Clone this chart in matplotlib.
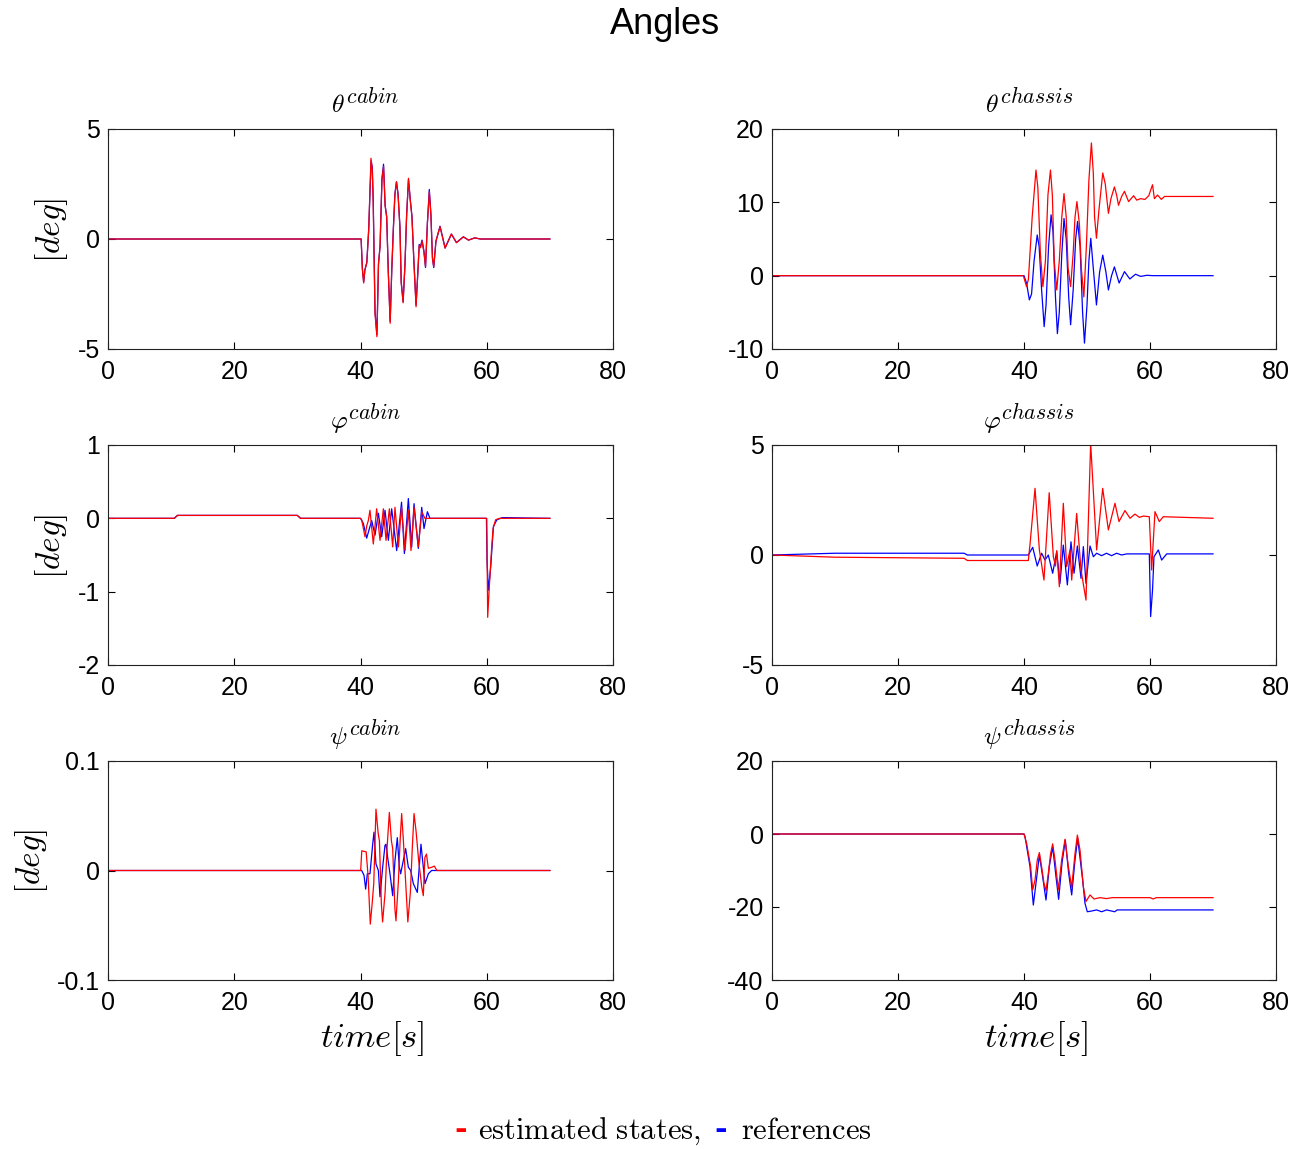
import numpy as np
import matplotlib
matplotlib.use("Agg")
import matplotlib.pyplot as plt
import matplotlib._mathtext as _mt

plt.rcParams['font.family'] = ['Liberation Sans', 'DejaVu Sans']
plt.rcParams['mathtext.fontset'] = 'cm'
plt.rcParams['axes.unicode_minus'] = False
_mt.SHRINK_FACTOR = 0.85  # larger superscripts, as in the reference titles

# ---------------- data: (time [s], angle [deg]) vertices ----------------
theta_cabin_est = [(0, 0), (40.1, 0), (40.3, -1.4), (40.5, -2.0), (40.7, -1.4), (41.0, -1.1), (41.3, 0.4),
                   (41.66, 3.67), (41.85, 3.2), (42.0, 1.8), (42.3, -3.4), (42.6, -4.44), (42.85, -1.1),
                   (43.1, -0.35), (43.4, 2.7), (43.65, 3.3), (43.9, 1.5), (44.15, 1.0), (44.4, -1.5),
                   (44.7, -3.83), (44.95, -1.4), (45.2, 0.4), (45.45, 2.0), (45.7, 2.6), (45.95, 2.0),
                   (46.25, 0.5), (46.45, -2.0), (46.75, -2.9), (47.05, -1.1), (47.3, 1.0), (47.6, 2.76),
                   (47.9, 1.7), (48.15, 1.0), (48.45, -1.0), (48.8, -3.08), (49.1, -1.4), (49.3, -0.3),
                   (49.5, -0.4), (49.75, -0.1), (50.05, -0.6), (50.3, -1.26), (50.6, 0.7), (50.9, 2.15),
                   (51.15, 1.1), (51.4, -0.9), (51.6, -1.26), (51.95, -0.1), (52.6, 0.56), (53.4, -0.42),
                   (54.4, 0.23), (55.2, -0.17), (56.3, 0.1), (57.1, -0.05), (58.1, 0.05), (59.0, 0), (70, 0)]
theta_cabin_ref = [(0, 0), (40.1, 0), (40.3, -1.35), (40.5, -1.95), (40.7, -1.4), (41.0, -1.05), (41.3, 0.45),
                   (41.68, 3.55), (41.87, 3.25), (42.02, 1.75), (42.3, -3.3), (42.6, -4.35), (42.85, -1.15),
                   (43.1, -0.3), (43.4, 2.75), (43.65, 3.4), (43.9, 1.55), (44.15, 1.0), (44.4, -1.45),
                   (44.7, -3.75), (44.95, -1.45), (45.2, 0.45), (45.45, 2.05), (45.7, 2.6), (45.95, 2.05),
                   (46.25, 0.55), (46.45, -1.95), (46.75, -2.85), (47.05, -1.15), (47.3, 1.05), (47.6, 2.7),
                   (47.9, 1.75), (48.15, 1.05), (48.45, -0.95), (48.8, -3.0), (49.1, -1.45), (49.3, -0.25),
                   (49.5, -0.35), (49.75, -0.05), (50.05, -0.55), (50.3, -1.3), (50.6, 0.75), (50.9, 2.25),
                   (51.15, 1.15), (51.4, -0.85), (51.6, -1.3), (51.95, -0.1), (52.6, 0.58), (53.4, -0.4),
                   (54.4, 0.22), (55.2, -0.16), (56.3, 0.1), (57.1, -0.05), (58.1, 0.05), (59.0, 0), (70, 0)]

theta_chassis_est = [(0, 0), (39.9, 0), (40.4, -1.5), (40.7, -0.5), (41.3, 8), (41.9, 14.4), (42.2, 12),
                     (42.6, 3), (43.0, -1.5), (43.4, 2), (43.8, 11), (44.2, 14.4), (44.5, 11), (44.8, 2),
                     (45.2, -1.95), (45.6, 2), (46.0, 8), (46.35, 11.2), (46.7, 8), (47.0, 1), (47.4, -1.5),
                     (47.8, 3), (48.1, 8), (48.4, 10.1), (48.8, 7), (49.1, 1), (49.5, -2.9), (49.9, 4),
                     (50.3, 13), (50.7, 18.1), (51.0, 14), (51.2, 8), (51.5, 5.1), (51.9, 9), (52.5, 14.0),
                     (52.9, 12.5), (53.4, 8.5), (53.8, 10.5), (54.35, 12.1), (54.7, 11), (55.0, 9.6),
                     (55.5, 10.8), (55.95, 11.5), (56.6, 10.1), (57.4, 10.9), (57.9, 10.3), (58.5, 10.5),
                     (59.2, 10.4), (59.8, 10.9), (60.4, 12.4), (60.7, 10.5), (61.2, 11.0), (61.8, 10.4),
                     (62.3, 10.8), (70, 10.8)]
theta_chassis_ref = [(0, 0), (40.0, 0), (40.4, -1.0), (40.85, -3.3), (41.2, -2.5), (41.6, 2), (42.1, 5.55),
                     (42.4, 4), (42.8, -2), (43.2, -6.95), (43.5, -4), (43.9, 4), (44.3, 8.3), (44.6, 6),
                     (45.0, -3), (45.3, -7.9), (45.6, -5), (46.0, 3), (46.35, 7.8), (46.7, 5), (47.1, -3),
                     (47.4, -6.7), (47.8, -2), (48.2, 5), (48.5, 7.4), (48.9, 4), (49.3, -5), (49.6, -9.2),
                     (50.0, -4), (50.3, 2), (50.6, 5.1), (51.0, 1), (51.5, -4.0), (52.0, 0.5), (52.5, 2.8),
                     (53.0, 0.5), (53.4, -1.95), (53.9, 0), (54.35, 1.2), (55.1, -1.0), (55.95, 0.55),
                     (56.8, -0.45), (57.7, 0.2), (58.5, -0.1), (59.5, 0.05), (60.5, 0), (70, 0)]

phi_cabin_est = [(0, 0), (10.5, 0), (11, 0.04), (30, 0.04), (30.5, 0), (40.0, 0), (40.19, -0.02),
                 (40.71, -0.25), (41.0, -0.1), (41.24, -0.03), (41.5, 0.11), (42.03, -0.35), (42.56, 0.13),
                 (43.09, -0.30), (43.62, 0.13), (44.04, -0.30), (44.57, 0.13), (45.1, -0.39), (45.46, 0.15),
                 (46.0, -0.39), (46.5, 0.15), (47.05, -0.44), (47.58, 0.11), (48.0, -0.44), (48.48, 0.15),
                 (49.16, -0.39), (49.7, 0.09), (50.2, 0), (51.3, 0), (60.0, 0), (60.15, -1.35),
                 (60.4, -0.94), (60.75, -0.44), (61.0, -0.14), (61.4, -0.02), (62, 0), (70, 0)]
phi_cabin_ref = [(0, 0), (10.5, 0), (11, 0.04), (30, 0.04), (30.5, 0), (40.0, 0), (40.45, -0.07),
                 (40.98, -0.27), (41.77, -0.03), (42.3, -0.23), (42.83, 0.07), (43.36, -0.25), (43.88, 0.11),
                 (44.41, -0.30), (44.94, 0.13), (45.73, -0.44), (46.5, 0.22), (46.95, -0.48), (47.58, 0.27),
                 (48.11, -0.39), (48.48, 0.2), (49.16, -0.41), (49.7, 0.15), (50.06, -0.14), (50.6, 0.09),
                 (51.0, 0), (59.95, 0), (60.05, -0.6), (60.27, -0.98), (60.63, -0.66), (61.06, -0.11),
                 (61.6, -0.02), (62.5, 0.01), (70, 0)]

phi_chassis_est = [(0, 0), (10, -0.1), (30.5, -0.15), (31, -0.25), (40.69, -0.25), (40.97, 0.53),
                   (41.75, 3.03), (42.44, 0.23), (43.17, -1.14), (44.0, 2.83), (44.66, -0.08), (45.0, -0.5),
                   (45.2, 0.2), (45.61, -1.44), (46.24, 2.35), (46.77, -0.53), (47.3, 0.23), (47.57, -1.14),
                   (48.36, 1.89), (49.05, -0.68), (49.84, -2.05), (50.58, 5.08), (51.53, 0.23), (52.49, 3.03),
                   (53.39, 1.14), (54.44, 2.35), (55.08, 1.52), (56.03, 2.02), (56.83, 1.67), (57.62, 1.86),
                   (58.31, 1.71), (58.94, 1.77), (59.89, 1.74), (60.26, -0.68), (60.79, 1.97), (61.48, 1.52),
                   (62.1, 1.74), (70, 1.67)]
phi_chassis_ref = [(0, 0), (10, 0.08), (30.5, 0.08), (31, 0.0), (40.69, 0.0), (41.38, 0.35), (42.1, -0.5),
                   (42.8, 0.08), (43.33, -0.23), (43.86, 0.0), (44.55, -0.83), (45.19, 0.15), (45.71, -1.29),
                   (46.24, 0.45), (46.88, -1.36), (47.46, 0.6), (47.94, -0.83), (48.47, 0.41), (49.05, -1.06),
                   (49.42, 0.38), (49.84, -1.29), (50.48, 0.41), (51.01, -0.08), (51.53, 0.08), (52.33, -0.03),
                   (53.1, 0.08), (53.9, -0.03), (54.7, 0.08), (55.5, 0.0), (56.3, 0.05), (59.89, 0.05),
                   (60.1, -2.8), (60.4, -1.6), (60.63, -0.08), (61.32, 0.23), (61.85, -0.23), (62.65, 0.05),
                   (70, 0.05)]

psi_cabin_est = [(0, 0), (40.03, 0), (40.2, 0.018), (40.9, 0.017), (41.2, -0.005), (41.55, -0.049),
                 (41.85, -0.03), (42.1, -0.012), (42.45, 0.056), (42.8, 0.034), (43.0, 0.027), (43.3, -0.03),
                 (43.5, -0.047), (43.9, -0.02), (44.2, 0.02), (44.57, 0.053), (44.9, 0.027), (45.1, 0.02),
                 (45.45, -0.035), (45.62, -0.046), (46.0, -0.01), (46.3, 0.03), (46.52, 0.052), (46.8, 0.027),
                 (47.05, 0.0), (47.5, -0.047), (47.9, -0.02), (48.2, 0.02), (48.48, 0.052), (48.8, 0.036),
                 (49.2, 0.01), (49.7, -0.015), (49.95, -0.023), (50.2, 0.012), (50.45, 0.015), (50.75, 0.002),
                 (51.3, 0.003), (51.7, 0.004), (52.1, 0), (70, 0)]
psi_cabin_ref = [(0, 0), (40.19, 0), (40.56, -0.0045), (40.82, -0.017), (41.08, -0.003), (41.5, -0.003),
                 (41.93, 0.024), (42.14, 0.035), (42.45, 0.006), (42.83, 0.0), (43.09, -0.024), (43.51, 0.003),
                 (43.88, 0.023), (44.04, 0.024), (44.3, 0.012), (44.67, -0.003), (45.1, -0.023), (45.46, 0.009),
                 (45.83, 0.03), (46.15, 0.003), (46.36, -0.003), (46.78, 0.009), (47.15, 0.02), (47.58, 0.003),
                 (47.95, 0.0), (48.37, -0.012), (49.0, -0.02), (49.58, 0.024), (49.95, 0.003), (50.22, -0.012),
                 (50.75, -0.003), (51.27, 0.0), (70, 0)]

psi_chassis_est = [(0, 0), (40.0, 0), (40.42, -2.6), (41.05, -8.9), (41.38, -15.3), (41.75, -12.6),
                   (42.11, -7.1), (42.44, -5.1), (42.8, -9.0), (43.17, -13.5), (43.49, -15.5), (43.86, -10.8),
                   (44.23, -5.3), (44.55, -2.7), (44.92, -7.1), (45.45, -15.3), (45.98, -7.1), (46.51, -1.45),
                   (47.04, -8.9), (47.57, -14.6), (48.1, -5.3), (48.47, -0.3), (48.89, -4.4), (49.42, -14.4),
                   (49.84, -18.5), (50.48, -16.7), (51.11, -17.8), (52.06, -17.44), (53.1, -17.7),
                   (54.0, -17.44), (60.0, -17.44), (60.5, -17.8), (61.0, -17.44), (70, -17.44)]
psi_chassis_ref = [(0, 0), (40.0, 0), (40.16, -0.7), (40.95, -8.9), (41.48, -19.45), (41.9, -13.5),
                   (42.44, -5.75), (42.96, -11.7), (43.49, -18.1), (44.02, -8.9), (44.55, -3.5), (45.08, -11.7),
                   (45.5, -17.9), (46.03, -8.0), (46.56, -1.64), (47.09, -10.8), (47.57, -16.7), (48.1, -7.1),
                   (48.52, -1.2), (49.31, -12.6), (49.68, -19.0), (50.05, -21.3), (50.74, -21.1), (51.53, -20.8),
                   (52.33, -21.3), (53.1, -20.8), (54.4, -21.3), (54.8, -20.8), (70, -20.8)]

titles = [r'$\theta^{cabin}$', r'$\theta^{chassis}$',
          r'$\varphi^{cabin}$', r'$\varphi^{chassis}$',
          r'$\psi^{cabin}$', r'$\psi^{chassis}$']
series = [(theta_cabin_est, theta_cabin_ref), (theta_chassis_est, theta_chassis_ref),
          (phi_cabin_est, phi_cabin_ref), (phi_chassis_est, phi_chassis_ref),
          (psi_cabin_est, psi_cabin_ref), (psi_chassis_est, psi_chassis_ref)]
ylims = [(-5, 5), (-10, 20), (-2, 1), (-5, 5), (-0.1, 0.1), (-40, 20)]
yticks = [[-5, 0, 5], [-10, 0, 10, 20], [-2, -1, 0, 1], [-5, 0, 5], [-0.1, 0, 0.1], [-40, -20, 0, 20]]
xticks = [0, 20, 40, 60, 80]

# ---------------- figure ----------------
W, H = 1302, 1149
fig = plt.figure(figsize=(W / 100, H / 100), dpi=100)

col_x = [108, 772]
col_w = [505, 504]
row_y = [(129, 349), (445, 665), (761, 980)]

for i in range(6):
    r, c = divmod(i, 2)
    top, bot = row_y[r]
    ax = fig.add_axes([col_x[c] / W, 1 - bot / H, col_w[c] / W, (bot - top) / H])
    est, ref = series[i]
    te, ve = np.array(est).T
    tr, vr = np.array(ref).T
    ax.plot(tr, vr, color='#0000ff', lw=0.9)
    ax.plot(te, ve, color='#ff0000', lw=0.9)
    ax.set_xlim(0, 80)
    ax.set_ylim(*ylims[i])
    ax.set_xticks(xticks)
    ax.set_yticks(yticks[i])
    ax.set_yticklabels([('%g' % v) for v in yticks[i]])
    ax.tick_params(direction='in', top=True, right=True, length=5, width=0.8,
                   labelsize=18, colors='black')
    ax.tick_params(axis='x', pad=8)
    ax.tick_params(axis='y', pad=6)
    for s in ax.spines.values():
        s.set_linewidth(0.8)
        s.set_color('#222222')
    ax.set_title(titles[i], fontsize=18.5, pad=11, x=0.51)
    if c == 0:
        ax.set_ylabel(r'$[deg]$', fontsize=24, labelpad=5)
        ax.yaxis.label.set_y(0.54)
    if r == 2:
        ax.set_xlabel(r'$time[s]$', fontsize=25, labelpad=3)
        ax.xaxis.label.set_x(0.524)

fig.text(665 / W, 1 - 25 / H, 'Angles', fontsize=26, ha='center', va='center')

# bottom legend text
fy = 1 - 1131 / H
fig.text(461 / W, fy, '-', fontsize=22, color='red', ha='center', va='center',
         family='DejaVu Sans', weight='bold')
fig.text(478 / W, fy, r'$\mathrm{estimated\ states,}$', fontsize=22, ha='left', va='center')
fig.text(721 / W, fy, '-', fontsize=22, color='blue', ha='center', va='center',
         family='DejaVu Sans', weight='bold')
fig.text(741 / W, fy, r'$\mathrm{references}$', fontsize=22, ha='left', va='center')

fig.savefig('out.png', dpi=100)
